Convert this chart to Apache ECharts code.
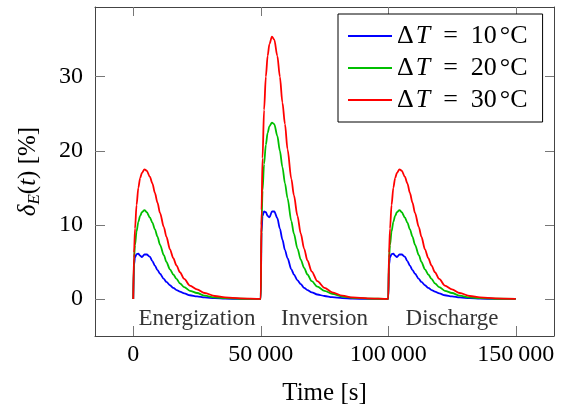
<!DOCTYPE html>
<html><head><meta charset="utf-8">
<script src="https://cdn.jsdelivr.net/npm/echarts@6/dist/echarts.min.js"></script>
<style>html,body{margin:0;padding:0;background:#fff}#c{width:570px;height:409px}</style>
</head><body><div id="c"></div>
<script>
// ---- data ----
const time = [
  0,300,700,1300,2000,2700,3400,4400,5300,6500,7500,8500,9500,10500,12000,13000,14400,15700,17000,18300,20000,22200,25000,28000,32000,36000,42000,
  50000,50300,50700,51300,52000,52700,53400,54400,55300,56500,57500,58500,59500,60500,62000,63000,64400,65700,67000,68300,70000,72200,75000,78000,82000,86000,92000,
  100000,100300,100700,101300,102000,102700,103400,104400,105300,106500,107500,108500,109500,110500,112000,113000,114400,115700,117000,118300,120000,122200,125000,128000,132000,136000,142000,
  150000];
const dT10 = [
  0,4.6,5.6,6.05,6.1,5.85,5.65,6.0,6.0,5.7,5.1,4.5,3.9,3.4,2.7,2.3,1.85,1.5,1.2,1.0,0.75,0.5,0.35,0.2,0.1,0.04,0.01,
  0,9.0,11.2,11.8,11.7,11.2,11.0,11.8,11.8,10.9,9.5,8.0,6.6,5.5,4.0,3.3,2.5,2.0,1.5,1.2,0.9,0.6,0.4,0.25,0.12,0.05,0.01,
  0,4.6,5.6,6.05,6.1,5.85,5.65,6.0,6.0,5.7,5.1,4.5,3.9,3.4,2.7,2.3,1.85,1.5,1.2,1.0,0.75,0.5,0.35,0.2,0.1,0.04,0.01,
  0];
const dT20 = [
  0,5.5,7.3,9.1,10.4,11.2,11.7,12.0,11.7,11.0,10.3,9.4,8.4,7.3,5.9,5.0,4.0,3.3,2.7,2.1,1.6,1.1,0.8,0.45,0.2,0.1,0.03,
  0,10.0,14.6,18.2,20.8,22.4,23.3,23.8,23.6,22.0,20.0,17.8,15.6,13.6,10.5,8.8,6.8,5.3,4.2,3.3,2.4,1.65,1.1,0.7,0.33,0.15,0.05,
  0,5.5,7.3,9.1,10.4,11.2,11.7,12.0,11.7,11.0,10.3,9.4,8.4,7.3,5.9,5.0,4.0,3.3,2.7,2.1,1.6,1.1,0.8,0.45,0.2,0.1,0.03,
  0];
const dT30 = [
  0,6.2,9.5,12.7,15.0,16.3,17.0,17.5,17.3,16.5,15.6,14.3,13.0,11.6,9.7,8.4,6.7,5.5,4.5,3.6,2.7,1.8,1.3,0.8,0.4,0.2,0.07,
  0,12.0,19.0,25.5,30.0,32.8,34.4,35.4,35.0,32.8,30.0,26.5,23.6,20.2,16.2,14.0,11.2,8.8,6.8,5.2,3.7,2.4,1.5,0.9,0.45,0.2,0.07,
  0,6.2,9.5,12.7,15.0,16.3,17.0,17.5,17.3,16.5,15.6,14.3,13.0,11.6,9.7,8.4,6.7,5.5,4.5,3.6,2.7,1.8,1.3,0.8,0.4,0.2,0.07,
  0];
const seriesNames = ['ΔT = 10°C', 'ΔT = 20°C', 'ΔT = 30°C'];
const seriesColors = ['#0000ff', '#00bf00', '#ff0000'];
const xTicks = [0, 50000, 100000, 150000];
const yTicks = [0, 10, 20, 30];
const phaseNames = ['Energization', 'Inversion', 'Discharge'];
const phaseX = [25000, 75000, 125000];
const phaseY = [-2.7, -2.7, -2.7];

// ---- chart ----
const F = 'Liberation Serif';
const values = [dT10, dT20, dT30];
const chart = echarts.init(document.getElementById('c'), null, {renderer: 'canvas'});
const axisCol = '#444', tickCol = '#777';
function fmtX(v) {
  const s = String(Math.round(v));
  return s.length > 3 ? s.slice(0, -3) + '\u2009' + s.slice(-3) : s;
}
const lineSeries = seriesNames.map((n, k) => ({
  name: n, type: 'line', showSymbol: false, symbol: 'none',
  smooth: 0.3, smoothMonotone: 'x',
  color: seriesColors[k],
  lineStyle: {width: 1.8, color: seriesColors[k]},
  data: time.map((t, i) => [t, values[k][i]]),
  z: 2 + k, silent: true
}));
const LF = 26;
const legendRich = {
  d: {fontFamily: F, fontSize: LF, color: '#000', padding: [0, 2, 0, 0]},
  i: {fontFamily: F, fontSize: LF, fontStyle: 'italic', color: '#000'},
  e: {fontFamily: F, fontSize: LF, color: '#000', padding: [0, 13, 0, 13]},
  n: {fontFamily: F, fontSize: LF, color: '#000'},
  c: {fontFamily: F, fontSize: LF, color: '#000', padding: [0, 0, 0, 3]}
};
chart.setOption({
  animation: false,
  backgroundColor: '#fff',
  grid: {left: 95, right: 16, top: 7, bottom: 73, containLabel: false, outerBoundsMode: 'none'},
  legend: {
    data: seriesNames, orient: 'vertical', left: 338, top: 14,
    padding: [8, 15, 8, 10], itemGap: 4, itemWidth: 44, itemHeight: 2, icon: 'rect',
    backgroundColor: '#fff', borderColor: '#000', borderWidth: 1, borderRadius: 0,
    selectedMode: false,
    formatter: function (name) {
      const m = name.match(/^Δ(T) = (\d+)(°C)$/);
      return '{d|Δ}{i|T}{e|=}{n|' + m[2] + '}{c|' + m[3] + '}';
    },
    textStyle: {fontFamily: F, fontSize: LF, color: '#000', lineHeight: 28, rich: legendRich}
  },
  xAxis: [{
    type: 'value', min: -15000, max: 165000, position: 'bottom',
    axisLine: {show: true, onZero: false, lineStyle: {color: axisCol, width: 1}},
    axisTick: {show: true, inside: true, length: 10, customValues: xTicks, lineStyle: {color: tickCol}},
    axisLabel: {customValues: xTicks, formatter: fmtX, fontFamily: F, fontSize: 24, color: '#000', margin: 7},
    splitLine: {show: false},
    name: 'Time [s]', nameLocation: 'middle', nameGap: 45,
    nameTextStyle: {fontFamily: F, fontSize: 25, color: '#000'}
  }, {
    type: 'value', min: -15000, max: 165000, position: 'top',
    axisLine: {show: true, onZero: false, lineStyle: {color: axisCol, width: 1}},
    axisTick: {show: true, inside: true, length: 9, customValues: xTicks, lineStyle: {color: tickCol}},
    axisLabel: {show: false}, splitLine: {show: false}
  }],
  yAxis: [{
    type: 'value', min: -5, max: 39.4, position: 'left',
    axisLine: {show: true, onZero: false, lineStyle: {color: axisCol, width: 1}},
    axisTick: {show: true, inside: true, length: 10, customValues: yTicks, lineStyle: {color: tickCol}},
    axisLabel: {customValues: yTicks, fontFamily: F, fontSize: 24, color: '#000', margin: 12},
    splitLine: {show: false},
    name: '{it|δ}{sub|E}{n|(}{it|t}{n|) [%]}', nameLocation: 'middle', nameGap: 52,
    nameTextStyle: {
      fontFamily: F, fontSize: 25, color: '#000',
      rich: {
        it: {fontFamily: F, fontSize: 25, fontStyle: 'italic', color: '#000', lineHeight: 30},
        n: {fontFamily: F, fontSize: 25, color: '#000', lineHeight: 30},
        sub: {fontFamily: F, fontSize: 17, fontStyle: 'italic', color: '#000', lineHeight: 14, verticalAlign: 'bottom'}
      }
    }
  }, {
    type: 'value', min: -5, max: 39.4, position: 'right',
    axisLine: {show: true, onZero: false, lineStyle: {color: axisCol, width: 1}},
    axisTick: {show: true, inside: true, length: 9, customValues: yTicks, lineStyle: {color: tickCol}},
    axisLabel: {show: false}, splitLine: {show: false}
  }],
  series: lineSeries.concat([{
    type: 'scatter', name: 'phases', symbolSize: 0, silent: true, z: 10,
    data: phaseX.map((x, i) => ({value: [x, phaseY[i]], name: phaseNames[i]})),
    label: {show: true, position: 'inside', formatter: '{b}', fontFamily: F, fontSize: 23, color: '#000'}
  }])
});
</script></body></html>
